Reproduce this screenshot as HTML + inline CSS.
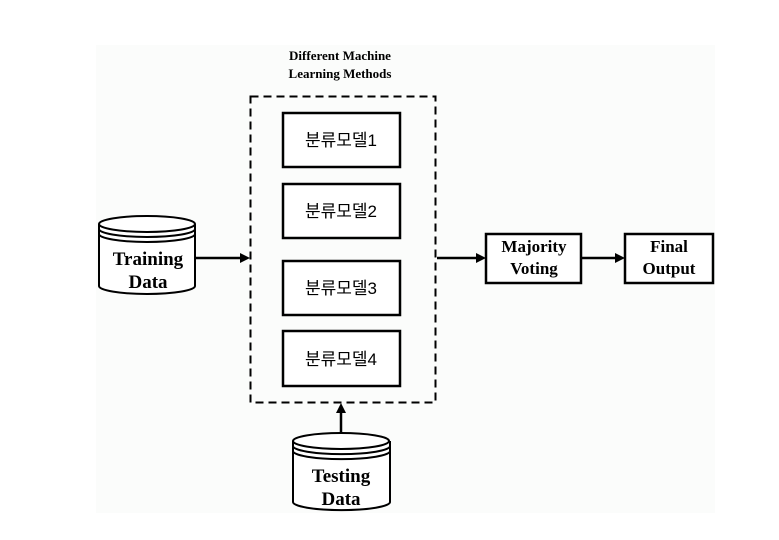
<!DOCTYPE html>
<html><head><meta charset="utf-8"><style>
html,body{margin:0;padding:0;background:#fff}
svg{display:block}
.b{font-family:"Liberation Serif",serif;font-weight:bold;fill:#000}
.k{font-family:"Liberation Sans","Noto Sans CJK KR",sans-serif;fill:#000;font-size:17px}
</style></head><body>
<svg width="779" height="540" viewBox="0 0 779 540" xmlns="http://www.w3.org/2000/svg">
<rect x="96" y="45" width="619" height="468" fill="#fbfcfb"/>
<text class="b" x="340" y="60" font-size="13" text-anchor="middle">Different Machine</text>
<text class="b" x="340" y="78" font-size="13" text-anchor="middle">Learning Methods</text>
<rect x="250.5" y="96.5" width="185" height="306" fill="none" stroke="#000" stroke-width="2" stroke-dasharray="8,5"/>
<g fill="#fff" stroke="#000" stroke-width="2.5">
<rect x="283" y="113" width="117" height="54"/>
<rect x="283" y="184" width="117" height="54"/>
<rect x="283" y="261" width="117" height="54"/>
<rect x="283" y="331" width="117" height="55"/>
<rect x="486" y="234" width="95" height="49"/>
<rect x="625" y="234" width="88" height="49"/>
</g>
<text class="k" x="341" y="146" text-anchor="middle">분류모델1</text>
<text class="k" x="341" y="217" text-anchor="middle">분류모델2</text>
<text class="k" x="341" y="294" text-anchor="middle">분류모델3</text>
<text class="k" x="341" y="365" text-anchor="middle">분류모델4</text>
<text class="b" x="534" y="252" font-size="17" text-anchor="middle">Majority</text>
<text class="b" x="534" y="274" font-size="17" text-anchor="middle">Voting</text>
<text class="b" x="669" y="252" font-size="17" text-anchor="middle">Final</text>
<text class="b" x="669" y="274" font-size="17" text-anchor="middle">Output</text>
<!-- cylinders -->
<g fill="#fff" stroke="#000" stroke-width="2">
<path d="M99,224 L99,286 A48,8 0 0 0 195,286 L195,224"/>
<ellipse cx="147" cy="224" rx="48" ry="8"/>
<path d="M99,229 A48,8 0 0 0 195,229" fill="none"/>
<path d="M99,234 A48,8 0 0 0 195,234" fill="none"/>
<path d="M293,441 L293,502 A48,8 0 0 0 390,502 L390,441"/>
<ellipse cx="341" cy="441" rx="48" ry="8"/>
<path d="M293,446 A48,8 0 0 0 390,446" fill="none"/>
<path d="M293,451 A48,8 0 0 0 390,451" fill="none"/>
</g>
<text class="b" x="148" y="265" font-size="19" text-anchor="middle">Training</text>
<text class="b" x="148" y="288" font-size="19" text-anchor="middle">Data</text>
<text class="b" x="341" y="482" font-size="19" text-anchor="middle">Testing</text>
<text class="b" x="341" y="505" font-size="19" text-anchor="middle">Data</text>
<!-- arrows -->
<g stroke="#000" stroke-width="2.5">
<line x1="196" y1="258" x2="243" y2="258"/>
<line x1="437" y1="258" x2="479" y2="258"/>
<line x1="582" y1="258" x2="618" y2="258"/>
<line x1="341" y1="432" x2="341" y2="410"/>
</g>
<g fill="#000">
<polygon points="250,258 240,253 240,263"/>
<polygon points="486,258 476,253 476,263"/>
<polygon points="625,258 615,253 615,263"/>
<polygon points="341,403 336,413 346,413"/>
</g>
</svg>
</body></html>
